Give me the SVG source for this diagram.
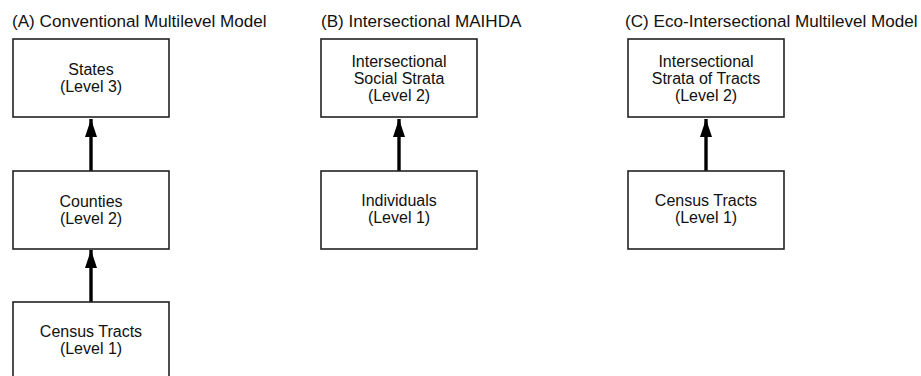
<svg xmlns="http://www.w3.org/2000/svg" width="921" height="376" viewBox="0 0 921 376">
<style>
.title{font-family:"Liberation Sans",Arial,sans-serif;font-size:17.1px;fill:#111}
.lbl{font-family:"Liberation Sans",Arial,sans-serif;font-size:16px;fill:#111;text-anchor:middle}
.box{fill:#fff;stroke:#222;stroke-width:1.6}
.conn{stroke:#000;stroke-width:3.4;fill:none}
</style>
<defs>
<marker id="ah" viewBox="0 0 18 12" refX="18" refY="6" markerWidth="18" markerHeight="12" markerUnits="userSpaceOnUse" orient="auto">
<path d="M0,0 L18,6 L0,12 Z" fill="#000"/>
</marker>
</defs>
<rect width="921" height="376" fill="#fff"/>
<text class="title" x="12" y="27">(A) Conventional Multilevel Model</text>
<text class="title" x="321" y="27">(B) Intersectional MAIHDA</text>
<text class="title" x="625" y="27">(C) Eco-Intersectional Multilevel Model</text>
<g id="connectors">
<line class="conn" x1="91" y1="171" x2="91" y2="119" marker-end="url(#ah)"/>
<line class="conn" x1="91" y1="302" x2="91" y2="250" marker-end="url(#ah)"/>
<line class="conn" x1="399" y1="171" x2="399" y2="119" marker-end="url(#ah)"/>
<line class="conn" x1="706" y1="171" x2="706" y2="119" marker-end="url(#ah)"/>
</g>
<g id="a-states">
<rect class="box" x="13" y="39" width="156" height="78"/>
<text class="lbl" x="91" y="75">States</text>
<text class="lbl" x="91" y="92">(Level 3)</text>
</g>
<g id="a-counties">
<rect class="box" x="13" y="171" width="156" height="78"/>
<text class="lbl" x="91" y="207">Counties</text>
<text class="lbl" x="91" y="224">(Level 2)</text>
</g>
<g id="a-tracts">
<rect class="box" x="13" y="302" width="156" height="80"/>
<text class="lbl" x="91" y="337">Census Tracts</text>
<text class="lbl" x="91" y="354">(Level 1)</text>
</g>
<g id="b-strata">
<rect class="box" x="321" y="39" width="156" height="78"/>
<text class="lbl" x="399" y="67">Intersectional</text>
<text class="lbl" x="399" y="84">Social Strata</text>
<text class="lbl" x="399" y="101">(Level 2)</text>
</g>
<g id="b-individuals">
<rect class="box" x="321" y="171" width="156" height="78"/>
<text class="lbl" x="399" y="206">Individuals</text>
<text class="lbl" x="399" y="223">(Level 1)</text>
</g>
<g id="c-strata">
<rect class="box" x="628" y="39" width="156" height="78"/>
<text class="lbl" x="706" y="67">Intersectional</text>
<text class="lbl" x="706" y="84">Strata of Tracts</text>
<text class="lbl" x="706" y="101">(Level 2)</text>
</g>
<g id="c-tracts">
<rect class="box" x="628" y="171" width="156" height="78"/>
<text class="lbl" x="706" y="206">Census Tracts</text>
<text class="lbl" x="706" y="223">(Level 1)</text>
</g>
</svg>
